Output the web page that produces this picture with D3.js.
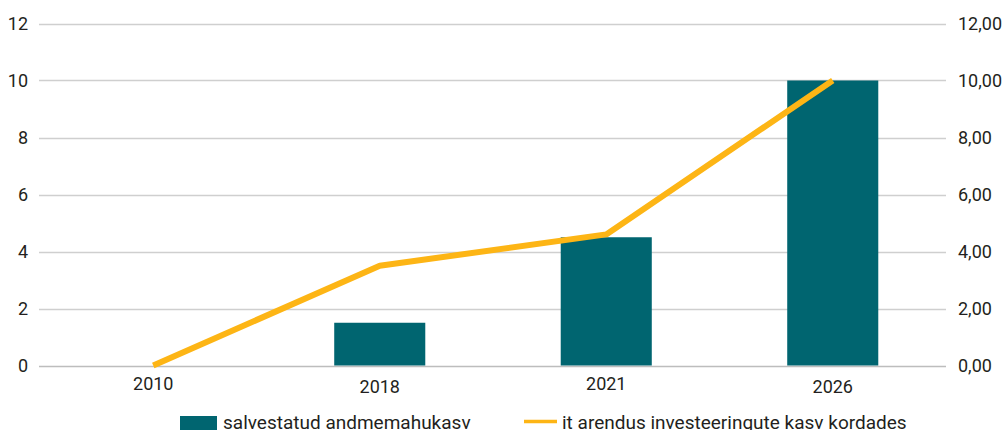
<!DOCTYPE html>
<html>
<head>
<meta charset="utf-8">
<script src="https://cdn.jsdelivr.net/npm/d3@7"></script>
<style>
  html, body { margin: 0; padding: 0; background: #fff; }
  svg { display: block; font-family: Roboto, "DejaVu Sans", sans-serif; }
</style>
</head>
<body>
<svg id="chart" width="1007" height="430"></svg>
<script>
// Categories (years)
const years = ["2010", "2018", "2021", "2026"];
// Bar series: stored data volume growth (left axis)
const dataGrowth = [null, 1.5, 4.5, 10];
// Line series: IT development investment growth, in times (right axis)
const itInvestGrowth = [0, 3.5, 4.6, 10];
// Tick values
const leftTicks = [0, 2, 4, 6, 8, 10, 12];
const rightTicks = [0, 2, 4, 6, 8, 10, 12];
// Legend labels
const barLabel = "salvestatud andmemahukasv";
const lineLabel = "it arendus investeeringute kasv kordades";

const barColor = "#006570";
const lineColor = "#FDB515";
const textColor = "#231f20";

const svg = d3.select("#chart");
const plot = { left: 40, right: 946, top: 23.5, bottom: 365.5 };

const x = d3.scaleBand().domain(years).range([plot.left, plot.right]).padding(0);
const yL = d3.scaleLinear().domain([0, 12]).range([plot.bottom, plot.top]);
const yR = d3.scaleLinear().domain([0, 12]).range([plot.bottom, plot.top]);

// Gridlines
svg.append("g")
  .selectAll("line")
  .data(leftTicks)
  .join("line")
  .attr("x1", plot.left - 1)
  .attr("x2", plot.right)
  .attr("y1", d => Math.round(yL(d)) + 0.5)
  .attr("y2", d => Math.round(yL(d)) + 0.5)
  .attr("stroke", d => d === 0 ? "#bdbdbd" : "#cfcfcf")
  .attr("stroke-width", 1.3);

// Left axis
const leftAxis = svg.append("g")
  .attr("transform", `translate(${28},0)`)
  .call(d3.axisLeft(yL).tickValues(leftTicks).tickSize(0).tickPadding(0).tickFormat(d3.format("d")));
leftAxis.select(".domain").remove();
leftAxis.selectAll("text")
  .attr("fill", textColor)
  .attr("font-size", 18)
  .attr("font-family", "Roboto, sans-serif");

// Right axis
const fmtComma = d => d3.format(".2f")(d).replace(".", ",");
const rightAxis = svg.append("g")
  .attr("transform", `translate(${958},0)`)
  .call(d3.axisRight(yR).tickValues(rightTicks).tickSize(0).tickPadding(0).tickFormat(fmtComma));
rightAxis.select(".domain").remove();
rightAxis.selectAll("text")
  .attr("fill", textColor)
  .attr("font-size", 18)
  .attr("font-family", "Roboto, sans-serif");

// Bottom axis labels
const bottomAxis = svg.append("g")
  .attr("transform", `translate(0,${plot.bottom})`)
  .call(d3.axisBottom(x).tickSize(0).tickPadding(0));
bottomAxis.select(".domain").remove();
bottomAxis.selectAll("text")
  .attr("fill", textColor)
  .attr("font-size", 18)
  .attr("font-family", "Roboto, sans-serif")
  .attr("dy", null)
  .attr("y", (d, i) => i % 2 === 0 ? 24.5 : 27.5);

// Bars
const barW = x.bandwidth() * 0.402;
svg.append("g")
  .selectAll("rect")
  .data(years.map((yr, i) => ({ yr, v: dataGrowth[i] })).filter(d => d.v != null))
  .join("rect")
  .attr("x", d => x(d.yr) + x.bandwidth() / 2 - barW / 2)
  .attr("width", barW)
  .attr("y", d => yL(d.v))
  .attr("height", d => yL(0) - yL(d.v))
  .attr("fill", barColor);

// Line
const line = d3.line()
  .x((d, i) => x(years[i]) + x.bandwidth() / 2)
  .y(d => yR(d));
svg.append("path")
  .datum(itInvestGrowth)
  .attr("d", line)
  .attr("fill", "none")
  .attr("stroke", lineColor)
  .attr("stroke-width", 6)
  .attr("stroke-linejoin", "round")
  .attr("stroke-linecap", "butt");

// Legend (sits at the bottom edge of the canvas)
const legend = svg.append("g");
legend.append("rect")
  .attr("x", 180).attr("y", 416).attr("width", 37).attr("height", 16)
  .attr("fill", barColor);
legend.append("text")
  .attr("x", 223).attr("y", 429)
  .attr("font-size", 19).attr("fill", textColor)
  .text(barLabel);
legend.append("line")
  .attr("x1", 524).attr("x2", 557).attr("y1", 421.5).attr("y2", 421.5)
  .attr("stroke", lineColor).attr("stroke-width", 3.5);
legend.append("text")
  .attr("x", 562).attr("y", 429)
  .attr("font-size", 19).attr("fill", textColor)
  .text(lineLabel);
</script>
</body>
</html>
